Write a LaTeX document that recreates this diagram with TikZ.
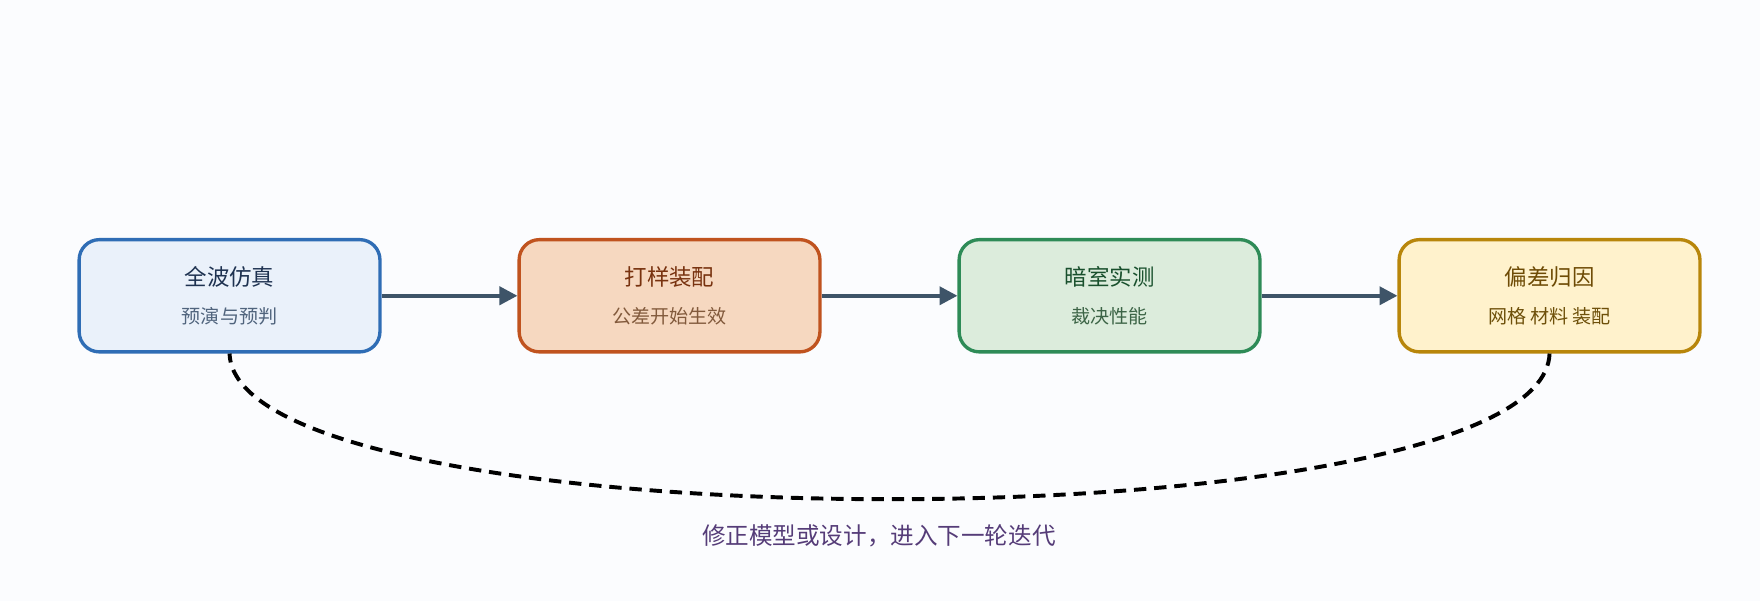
\documentclass[tikz,border=0pt]{standalone}
\usepackage{fontspec}
\setmainfont{Noto Sans CJK SC}
\usetikzlibrary{arrows.meta}
\definecolor{bg}{HTML}{FBFCFE}
\definecolor{arr}{HTML}{3E5468}
\definecolor{loop}{HTML}{7B59A6}
\tikzset{
 box/.style={draw, line width=3pt, rounded corners=18pt, minimum width=268pt, minimum height=100pt},
 ttl/.style={font=\fontsize{20}{24}\selectfont},
 sub/.style={font=\fontsize{17}{20}\selectfont},
 flow/.style={draw=arr, line width=3.5pt, -{Triangle[length=16pt,width=16pt]}},
}
\begin{document}
\begin{tikzpicture}[x=1pt,y=-1pt]
\fill[bg] (0,0) rectangle (1568,535);
\useasboundingbox (0,0) rectangle (1568,535);
\node[box, draw={rgb,255:red,47;green,109;blue,181}, fill={rgb,255:red,234;green,241;blue,250}] (a) at (204.5,263.5) {};
\node[box, draw={rgb,255:red,192;green,83;blue,31}, fill={rgb,255:red,246;green,216;blue,192}] (b) at (596.5,263.5) {};
\node[box, draw={rgb,255:red,46;green,139;blue,87}, fill={rgb,255:red,220;green,236;blue,220}] (c) at (988.5,263.5) {};
\node[box, draw={rgb,255:red,184;green,134;blue,11}, fill={rgb,255:red,255;green,242;blue,204}] (d) at (1380.5,263.5) {};
\node[ttl, text={rgb,255:red,30;green,50;blue,80}] (at) at (204.5,247) {全波仿真};
\node[sub, text={rgb,255:red,80;green,100;blue,125}] (as) at (204.5,282) {预演与预判};
\node[ttl, text={rgb,255:red,120;green,50;blue,15}] (bt) at (596.5,247) {打样装配};
\node[sub, text={rgb,255:red,130;green,90;blue,60}] (bs) at (596.5,282) {公差开始生效};
\node[ttl, text={rgb,255:red,25;green,80;blue,45}] (ct) at (988.5,247) {暗室实测};
\node[sub, text={rgb,255:red,60;green,100;blue,70}] (cs) at (988.5,282) {裁决性能};
\node[ttl, text={rgb,255:red,110;green,75;blue,5}] (dt) at (1380.5,247) {偏差归因};
\node[sub, text={rgb,255:red,110;green,80;blue,10}] (ds) at (1380.5,282) {网格 材料 装配};
\draw[flow] (a.east) -- (b.west);
\draw[flow] (b.east) -- (c.west);
\draw[flow] (c.east) -- (d.west);
\draw[loop, line width=3.5pt, dash pattern=on 11pt off 7pt] (d.south) .. controls (1375,488) and (210,488) .. (a.south);
\node[font=\fontsize{21}{25}\selectfont, text={rgb,255:red,85;green,60;blue,120}] (lbl) at (783,477) {修正模型或设计，进入下一轮迭代};
\end{tikzpicture}
\end{document}
